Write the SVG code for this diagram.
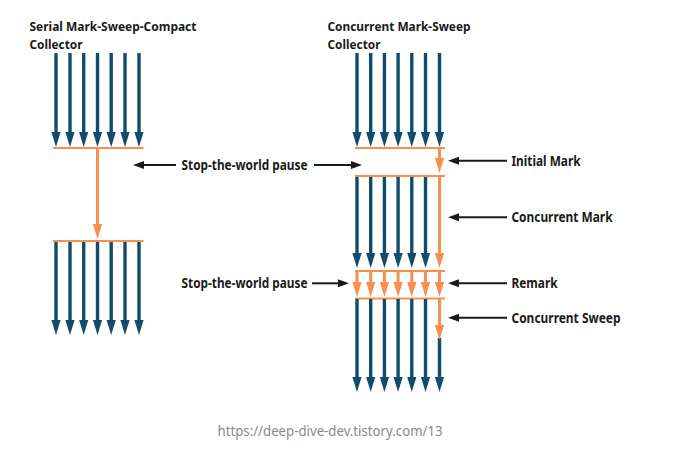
<svg xmlns="http://www.w3.org/2000/svg" width="687" height="454" viewBox="0 0 687 454">
<style>
.b{stroke:#124c6d;stroke-width:3.4;fill:none}
.o{stroke:#f98f4f;stroke-width:3;fill:none}
.oh{stroke:#f98f4f;stroke-width:2.2;fill:none}
.k{stroke:#1a1a1a;stroke-width:2;fill:none}
.t{font-family:"Noto Sans","Open Sans",sans-serif;font-weight:700;font-size:14px;fill:#1a1a1a}
.h{font-family:"Noto Sans","Open Sans",sans-serif;font-weight:700;font-size:13px;fill:#1a1a1a}
.u{font-family:"Noto Sans","Open Sans",sans-serif;font-size:14px;fill:#8a8a8a}
</style>
<defs>
<marker id="mb" markerUnits="userSpaceOnUse" viewBox="0 -5 15 10" markerWidth="15" markerHeight="10" refX="7" refY="0" orient="auto"><path d="M0,-4.6 L15,0 L0,4.6 z" fill="#124c6d"/></marker>
<marker id="mo" markerUnits="userSpaceOnUse" viewBox="0 -5 15 10" markerWidth="15" markerHeight="10" refX="7" refY="0" orient="auto"><path d="M0,-4.6 L15,0 L0,4.6 z" fill="#f98f4f"/></marker>
<marker id="mk" markerUnits="userSpaceOnUse" viewBox="0 -5 11 10" markerWidth="11" markerHeight="10" refX="5" refY="0" orient="auto"><path d="M0,-4 L11,0 L0,4 z" fill="#1a1a1a"/></marker>
</defs>

<g id="serial-collector">
<text class="h" x="29.5" y="30.5" textLength="167" lengthAdjust="spacingAndGlyphs">Serial Mark-Sweep-Compact</text>
<text class="h" x="29.5" y="48.5" textLength="53" lengthAdjust="spacingAndGlyphs">Collector</text>
<g marker-end="url(#mb)" class="b">
<line x1="56" y1="53" x2="56" y2="139"/>
<line x1="70" y1="53" x2="70" y2="139"/>
<line x1="83.7" y1="53" x2="83.7" y2="139"/>
<line x1="97.5" y1="53" x2="97.5" y2="139"/>
<line x1="111.2" y1="53" x2="111.2" y2="139"/>
<line x1="125" y1="53" x2="125" y2="139"/>
<line x1="139" y1="53" x2="139" y2="139"/>
</g>
<line class="oh" x1="53" y1="148" x2="143.5" y2="148"/>
<line class="o" x1="97.5" y1="148" x2="97.5" y2="231" marker-end="url(#mo)"/>
<line class="oh" x1="53" y1="241" x2="143.5" y2="241"/>
<g marker-end="url(#mb)" class="b">
<line x1="56" y1="242" x2="56" y2="327"/>
<line x1="70" y1="242" x2="70" y2="327"/>
<line x1="83.7" y1="242" x2="83.7" y2="327"/>
<line x1="97.5" y1="242" x2="97.5" y2="327"/>
<line x1="111.2" y1="242" x2="111.2" y2="327"/>
<line x1="125" y1="242" x2="125" y2="327"/>
<line x1="139" y1="242" x2="139" y2="327"/>
</g>
</g>

<g id="concurrent-collector">
<text class="h" x="327.5" y="30.5" textLength="143" lengthAdjust="spacingAndGlyphs">Concurrent Mark-Sweep</text>
<text class="h" x="327.5" y="48.5" textLength="53" lengthAdjust="spacingAndGlyphs">Collector</text>
<g marker-end="url(#mb)" class="b">
<line x1="357" y1="53" x2="357" y2="139"/>
<line x1="370.7" y1="53" x2="370.7" y2="139"/>
<line x1="384.4" y1="53" x2="384.4" y2="139"/>
<line x1="398.1" y1="53" x2="398.1" y2="139"/>
<line x1="411.8" y1="53" x2="411.8" y2="139"/>
<line x1="425.5" y1="53" x2="425.5" y2="139"/>
<line x1="439.5" y1="53" x2="439.5" y2="139"/>
</g>
<line class="oh" x1="355" y1="148" x2="445" y2="148"/>
<line class="o" x1="439.5" y1="148" x2="439.5" y2="165" marker-end="url(#mo)"/>
<line class="oh" x1="355" y1="176" x2="445" y2="176"/>
<g marker-end="url(#mb)" class="b">
<line x1="357" y1="177" x2="357" y2="260"/>
<line x1="370.7" y1="177" x2="370.7" y2="260"/>
<line x1="384.4" y1="177" x2="384.4" y2="260"/>
<line x1="398.1" y1="177" x2="398.1" y2="260"/>
<line x1="411.8" y1="177" x2="411.8" y2="260"/>
<line x1="425.5" y1="177" x2="425.5" y2="260"/>
</g>
<line class="o" x1="439.5" y1="176" x2="439.5" y2="260" marker-end="url(#mo)"/>
<line class="oh" x1="355" y1="271" x2="445" y2="271"/>
<g marker-end="url(#mo)" class="o">
<line x1="357" y1="271" x2="357" y2="289"/>
<line x1="370.7" y1="271" x2="370.7" y2="289"/>
<line x1="384.4" y1="271" x2="384.4" y2="289"/>
<line x1="398.1" y1="271" x2="398.1" y2="289"/>
<line x1="411.8" y1="271" x2="411.8" y2="289"/>
<line x1="425.5" y1="271" x2="425.5" y2="289"/>
<line x1="439.5" y1="271" x2="439.5" y2="289"/>
</g>
<line class="oh" x1="355" y1="298.5" x2="445" y2="298.5"/>
<g marker-end="url(#mb)" class="b">
<line x1="357" y1="299" x2="357" y2="384"/>
<line x1="370.7" y1="299" x2="370.7" y2="384"/>
<line x1="384.4" y1="299" x2="384.4" y2="384"/>
<line x1="398.1" y1="299" x2="398.1" y2="384"/>
<line x1="411.8" y1="299" x2="411.8" y2="384"/>
<line x1="425.5" y1="299" x2="425.5" y2="384"/>
<line x1="439.5" y1="338" x2="439.5" y2="384"/>
</g>
<line class="o" x1="439.5" y1="299" x2="439.5" y2="332" marker-end="url(#mo)"/>
</g>

<g id="connectors" class="k" marker-end="url(#mk)">
<line x1="176" y1="165" x2="139" y2="165"/>
<line x1="314" y1="165" x2="356" y2="165"/>
<line x1="312" y1="283.3" x2="343" y2="283.3"/>
<line x1="507" y1="160.7" x2="454" y2="160.7"/>
<line x1="507" y1="217.3" x2="454" y2="217.3"/>
<line x1="507" y1="283.3" x2="454" y2="283.3"/>
<line x1="507" y1="317.7" x2="454" y2="317.7"/>
</g>

<g id="label-stw-1"><text class="t" x="181.5" y="170" textLength="126" lengthAdjust="spacingAndGlyphs">Stop-the-world pause</text></g>
<g id="label-stw-2"><text class="t" x="181.5" y="288" textLength="126" lengthAdjust="spacingAndGlyphs">Stop-the-world pause</text></g>
<g id="label-initial-mark"><text class="t" x="511.5" y="165.5" textLength="69" lengthAdjust="spacingAndGlyphs">Initial Mark</text></g>
<g id="label-concurrent-mark"><text class="t" x="511.5" y="222" textLength="101" lengthAdjust="spacingAndGlyphs">Concurrent Mark</text></g>
<g id="label-remark"><text class="t" x="511.5" y="288" textLength="46" lengthAdjust="spacingAndGlyphs">Remark</text></g>
<g id="label-concurrent-sweep"><text class="t" x="511.5" y="322.5" textLength="109" lengthAdjust="spacingAndGlyphs">Concurrent Sweep</text></g>
<g id="source"><text class="u" x="217.5" y="436" textLength="225" lengthAdjust="spacingAndGlyphs">https://deep-dive-dev.tistory.com/13</text></g>
</svg>
